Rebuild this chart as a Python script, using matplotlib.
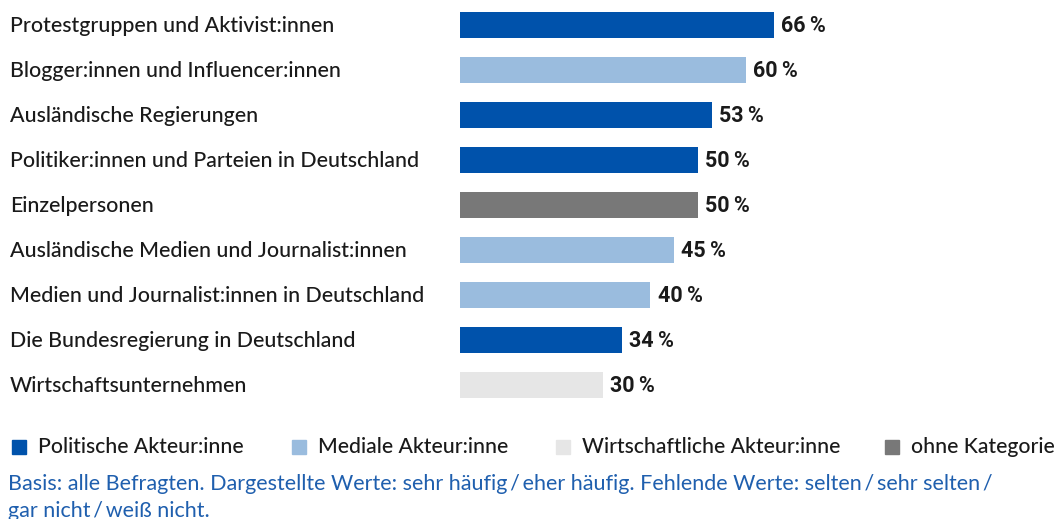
import matplotlib.pyplot as plt
import matplotlib.patches as mpatches
from matplotlib.transforms import blended_transform_factory

# Daten
categories = [
    "Protestgruppen und Aktivist:innen",
    "Blogger:innen und Influencer:innen",
    "Ausländische Regierungen",
    "Politiker:innen und Parteien in Deutschland",
    "Einzelpersonen",
    "Ausländische Medien und Journalist:innen",
    "Medien und Journalist:innen in Deutschland",
    "Die Bundesregierung in Deutschland",
    "Wirtschaftsunternehmen",
]
values = [66, 60, 53, 50, 50, 45, 40, 34, 30]
groups = ["pol", "med", "pol", "pol", "none", "med", "med", "pol", "wirt"]

group_labels = ["Politische Akteur:inne", "Mediale Akteur:inne",
                "Wirtschaftliche Akteur:inne", "ohne Kategorie"]
group_keys = ["pol", "med", "wirt", "none"]
colors = {"pol": "#0052ab", "med": "#9abcde", "wirt": "#e6e6e6", "none": "#787878"}

footnote = ("Basis: alle Befragten. Dargestellte Werte: sehr häufig\u2009/\u2009eher häufig. "
            "Fehlende Werte: selten\u2009/\u2009sehr selten\u2009/\n"
            "gar nicht\u2009/\u2009weiß nicht.")

W, H = 1060, 519
fig = plt.figure(figsize=(W / 100, H / 100), dpi=100)

# Achse in Pixelkoordinaten platzieren
ax = fig.add_axes([460 / W, 1 - 407.5 / H, 476 / W, 405 / H])
ax.set_xlim(0, 100)
ax.set_ylim(len(values) - 0.5, -0.5)
ax.axis("off")

ypos = list(range(len(values)))
ax.barh(ypos, values, height=0.58, color=[colors[g] for g in groups], edgecolor="none")

label_tr = blended_transform_factory(fig.transFigure, ax.transData)
for y, v, cat in zip(ypos, values, categories):
    ax.text(v + 1.5, y + 0.03, f"{v}\u2009%", va="center", ha="left",
            fontsize=15.5, fontweight="bold", family="Roboto", color="#1a1a1a")
    ax.text(10 / W, y + 0.03, cat, transform=label_tr, va="center", ha="left",
            fontsize=15.4, fontweight="medium", family="Lato", color="#1a1a1a")

# Legende
leg_x = [12, 292, 556, 885]
for x, key, lab in zip(leg_x, group_keys, group_labels):
    fig.patches.append(mpatches.Rectangle((x / W, 1 - 454 / H), 14 / W, 14 / H,
                                          transform=fig.transFigure, color=colors[key]))
    fig.text((x + 26) / W, 1 - 447 / H, lab, va="center", ha="left",
             fontsize=15.2, fontweight="medium", family="Lato", color="#1a1a1a")

fig.text(8 / W, 1 - 474 / H, footnote, va="top", ha="left", fontsize=15.5,
         family="Lato", color="#1f5fae", linespacing=1.42)

fig.savefig("out.png", dpi=100)
